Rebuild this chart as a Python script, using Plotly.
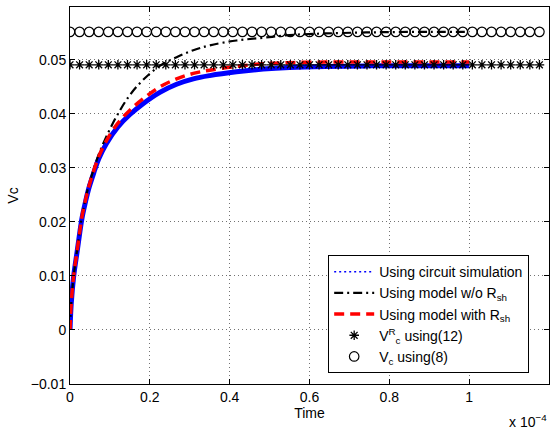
import plotly.graph_objects as go

# time in units of 1e-4 s
t_curve = [0, 0.003, 0.009, 0.018, 0.025, 0.030, 0.039, 0.047, 0.060, 0.072,
           0.091, 0.12, 0.15, 0.183, 0.225, 0.267, 0.309, 0.35, 0.417, 0.484,
           0.55, 0.64, 0.75, 0.87, 1.0]
v_circuit = [0, 0.0048, 0.0098, 0.0146, 0.0183, 0.0207, 0.0238, 0.0262, 0.0292, 0.0317,
             0.0345, 0.0376, 0.0399, 0.0419, 0.0440, 0.0455, 0.0465, 0.0471, 0.0478, 0.0483,
             0.0486, 0.0488, 0.0489, 0.0489, 0.0489]
v_model_no_rsh = [0, 0.0049, 0.0099, 0.0149, 0.0186, 0.0211, 0.0243, 0.0268, 0.0299, 0.0325,
                  0.0358, 0.0400, 0.0435, 0.0463, 0.0489, 0.0505, 0.0518, 0.0527, 0.0536, 0.0541,
                  0.0546, 0.0549, 0.0551, 0.0552, 0.0552]
v_model_rsh = [0, 0.0049, 0.0099, 0.0148, 0.0185, 0.0210, 0.0241, 0.0265, 0.0296, 0.0321,
               0.0350, 0.0383, 0.0407, 0.0428, 0.0450, 0.0465, 0.0475, 0.0481, 0.0488, 0.0493,
               0.0495, 0.0496, 0.0496, 0.0496, 0.0496]

t_marks = [0, 0.024, 0.048, 0.072, 0.096, 0.12, 0.144, 0.168, 0.192, 0.216,
           0.24, 0.264, 0.288, 0.312, 0.336, 0.36, 0.384, 0.408, 0.432, 0.456,
           0.48, 0.504, 0.528, 0.552, 0.576, 0.6, 0.624, 0.648, 0.672, 0.696,
           0.72, 0.744, 0.768, 0.792, 0.816, 0.84, 0.864, 0.888, 0.912, 0.936,
           0.96, 0.984, 1.008, 1.032, 1.056, 1.08, 1.104, 1.128, 1.152, 1.176]
vcR_eq12 = 0.0491
vc_eq8 = 0.0552

x_ticks = [0, 0.2, 0.4, 0.6, 0.8, 1.0, 1.2]
x_ticktext = ["0", "0.2", "0.4", "0.6", "0.8", "1", "1.2"]
y_ticks = [-0.01, 0, 0.01, 0.02, 0.03, 0.04, 0.05]
y_ticktext = ["\u22120.01", "0", "0.01", "0.02", "0.03", "0.04", "0.05"]

fig = go.Figure()

# circuit simulation (thick band) + legend proxy
fig.add_trace(go.Scatter(x=t_curve, y=v_circuit, mode="lines", line=dict(color="#0000ff", width=5, shape="spline"),
                         showlegend=False, hoverinfo="skip"))
fig.add_trace(go.Scatter(x=[None], y=[None], mode="lines", name="Using circuit simulation",
                         line=dict(color="#0000ff", width=1.5, dash="2px,3px")))
fig.add_trace(go.Scatter(x=t_curve, y=v_model_no_rsh, mode="lines", name="Using model w/o R<sub>sh</sub>",
                         line=dict(color="black", width=2.2, dash="9px,4px,2px,4px", shape="spline")))
fig.add_trace(go.Scatter(x=t_curve, y=v_model_rsh, mode="lines", name="Using model with R<sub>sh</sub>",
                         line=dict(color="#ff0000", width=3.5, dash="10px,6px", shape="spline")))
fig.add_trace(go.Scatter(x=t_marks, y=[vcR_eq12] * len(t_marks), mode="markers",
                         name="V<sup>R</sup><sub>c</sub> using(12)",
                         marker=dict(symbol="asterisk-open", size=8, color="black", line=dict(color="black", width=1.3))))
fig.add_trace(go.Scatter(x=t_marks, y=[vc_eq8] * len(t_marks), mode="markers",
                         name="V<sub>c</sub> using(8)",
                         marker=dict(symbol="circle-open", size=9.5, color="black", line=dict(color="black", width=1.2))))

axis_common = dict(showline=True, linecolor="black", linewidth=1, mirror="ticks",
                   ticks="inside", ticklen=5, tickcolor="black", tickwidth=1,
                   showgrid=True, gridcolor="rgba(0,0,0,0.55)", gridwidth=1, griddash="1px,3px",
                   zeroline=False, automargin=False, tickfont=dict(size=14, color="black"))

fig.update_layout(
    width=558, height=429,
    margin=dict(l=70, r=9, t=7, b=45),
    paper_bgcolor="white", plot_bgcolor="white",
    font=dict(family="Liberation Sans, Arial, sans-serif", size=14, color="black"),
    xaxis=dict(range=[0, 1.2], tickvals=x_ticks, ticktext=x_ticktext,
               title=dict(text="Time", font=dict(size=14), standoff=2), **axis_common),
    yaxis=dict(range=[-0.01, 0.0598], tickvals=y_ticks, ticktext=y_ticktext,
               title=dict(text="Vc", font=dict(size=14), standoff=8), **axis_common),
    legend=dict(x=0.539, y=0.029, xanchor="left", yanchor="bottom",
                bgcolor="white", bordercolor="black", borderwidth=1,
                font=dict(size=14), itemwidth=40, tracegroupgap=0),
    annotations=[dict(text="x 10<sup>\u22124</sup>", x=1.0, y=0, xref="paper", yref="paper",
                      xanchor="right", yanchor="top", yshift=-26, showarrow=False,
                      font=dict(size=14))],
    showlegend=True,
)

fig.write_html("out.html", config={"displayModeBar": False},
               post_script="document.body.style.margin='0';")
